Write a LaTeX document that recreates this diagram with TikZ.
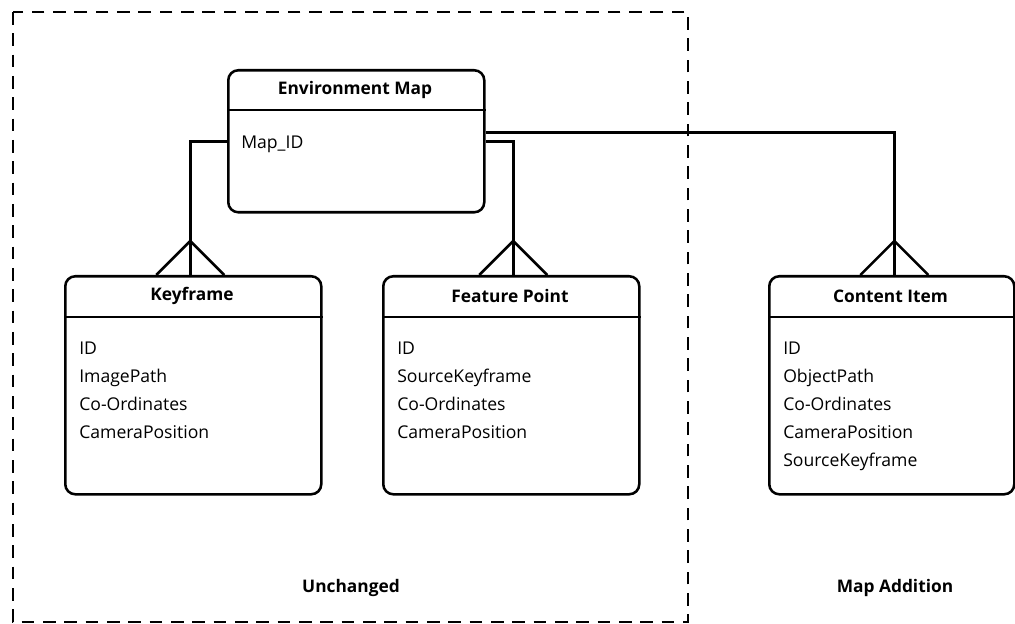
\documentclass[tikz,border=0pt]{standalone}
\usepackage{fontspec}
\setmainfont{Open Sans}
\usetikzlibrary{positioning}
\tikzset{
  entity/.style={draw,rounded corners=7.5pt,minimum width=192pt,minimum height=163.5pt,inner sep=0pt,anchor=north west},
  ttl/.style={font=\fontsize{13}{15}\selectfont\bfseries},
  fields/.style={font=\fontsize{13.2}{21}\selectfont,align=left,anchor=base west,inner sep=0pt},
  region/.style={dash pattern=on 9.5pt off 6.5pt},
  lbl/.style={font=\fontsize{13}{15}\selectfont\bfseries},
}
% #1 node, #2 horizontal shift of the connector
\newcommand\crowfoot[2]{\draw ([xshift=#2-25.5pt]#1.north) -- ([xshift=#2,yshift=25.5pt]#1.north) -- ([xshift=#2+25.5pt]#1.north);}
\newcommand\headerline[1]{\draw ([yshift=-31.5pt]#1.north west) -- ([yshift=-31.5pt]#1.north east);}
\begin{document}
\begin{tikzpicture}[x=0.75pt,y=-0.75pt,line width=1.9pt]
\useasboundingbox (0,0) rectangle (1015,624);
\draw[region] (13,12) rectangle (688,622);

\node[entity,minimum height=106.5pt] (em) at (227,69) {};
\draw ([yshift=-30.75pt]em.north west) -- ([yshift=-30.75pt]em.north east);
\node[ttl] (emt) at (355,90) {Environment Map};
\node[fields] (emf) at (240,149) {Map\_ID};

\node[entity] (kf) at (64,275) {};
\headerline{kf}
\node[ttl] (kft) at (192,296) {Keyframe};
\node[fields] (kff) at (78,438) {ID\\ImagePath\\Co-Ordinates\\CameraPosition};

\node[entity] (fp) at (382,275) {};
\headerline{fp}
\node[ttl] (fpt) at (510,296) {Feature Point};
\node[fields] (fpf) at (396,438) {ID\\SourceKeyframe\\Co-Ordinates\\CameraPosition};

\node[entity,minimum width=183.75pt] (ci) at (768,275) {};
\headerline{ci}
\node[ttl] (cit) at (890.5,296) {Content Item};
\node[fields] (cif) at (782,466) {ID\\ObjectPath\\Co-Ordinates\\CameraPosition\\SourceKeyframe};

\draw (em.west) -| ([xshift=-2.25pt]kf.north);
\draw (em.east) -| ([xshift=1.5pt]fp.north);
\draw ([yshift=6.75pt]em.east) -| ([xshift=1.9pt]ci.north);
\crowfoot{kf}{-2.25pt}
\crowfoot{fp}{1.5pt}
\crowfoot{ci}{1.9pt}

\node[lbl] (l1) at (351,588) {Unchanged};
\node[lbl] (l2) at (895,588) {Map Addition};
\end{tikzpicture}
\end{document}
